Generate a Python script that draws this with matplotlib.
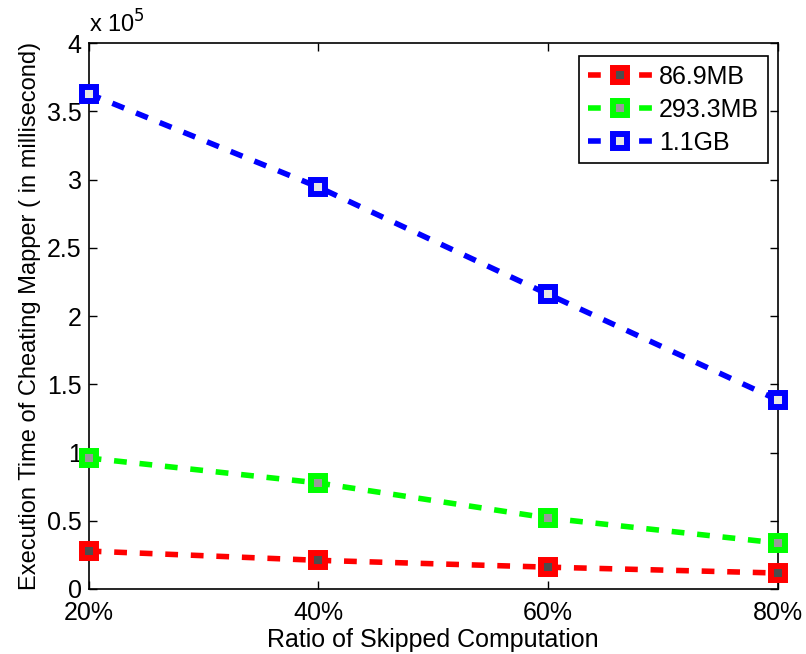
import matplotlib.pyplot as plt
from matplotlib.ticker import FixedLocator

plt.rcParams['font.family'] = ['Liberation Sans', 'DejaVu Sans']

# data (execution time in units of 1e5 ms)
ratios = [20, 40, 60, 80]
ratio_labels = ['20%', '40%', '60%', '80%']
t_small = [0.278, 0.21, 0.16, 0.117]
t_mid = [0.96, 0.777, 0.52, 0.337]
t_big = [3.63, 2.945, 2.16, 1.385]
series_names = ['86.9MB', '293.3MB', '1.1GB']

fig = plt.figure(figsize=(8.06, 6.54), dpi=100)
ax = fig.add_axes([0.110, 0.0994, 0.855, 0.8346])

styles = [('#ff0000', '0.3'), ('#00ff00', '0.6'), ('#0000ff', '0.9')]
for ys, name, (c, face) in zip([t_small, t_mid, t_big], series_names, styles):
    ax.plot(ratios, ys, color=c, lw=4, linestyle=(0, (2.3, 2.3)),
            marker='s', ms=10, mew=4.3, mec=c, mfc=face,
            label=name, clip_on=False, zorder=3)

ax.set_xlim(20, 80)
ax.set_ylim(0, 4)
ax.xaxis.set_major_locator(FixedLocator(ratios))
ax.set_xticklabels(ratio_labels)
ax.set_yticks([0, 0.5, 1, 1.5, 2, 2.5, 3, 3.5, 4])
ax.set_yticklabels(['0', '0.5', '1', '1.5', '2', '2.5', '3', '3.5', '4'])
ax.tick_params(direction='in', top=True, right=True, labelsize=18,
               length=6, width=1)
ax.tick_params(axis='x', pad=9)
ax.tick_params(axis='y', pad=5)
for s in ax.spines.values():
    s.set_linewidth(1.2)

ax.set_xlabel('Ratio of Skipped Computation', fontsize=18, labelpad=2)
ax.set_ylabel('Execution Time of Cheating Mapper ( in millisecond)',
              fontsize=17, labelpad=4)
ax.text(0.0, 1.01, r'x 10$^5$', transform=ax.transAxes, fontsize=17,
        ha='left', va='bottom')

leg = ax.legend(loc='upper right', bbox_to_anchor=(0.9855, 0.976),
                borderaxespad=0, fontsize=18, numpoints=1,
                handlelength=2.55, fancybox=False, framealpha=1,
                edgecolor='black', borderpad=0.35, labelspacing=0.35,
                handletextpad=0.3)
leg.get_frame().set_linewidth(1.2)

fig.savefig('out.png', dpi=100)
